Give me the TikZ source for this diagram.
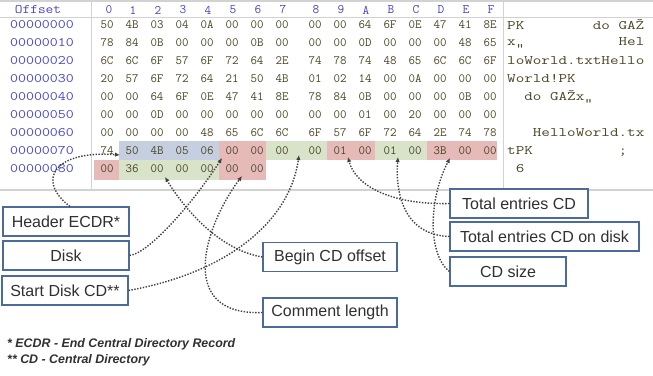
\documentclass[tikz,border=0pt]{standalone}
\usepackage{fontspec}
\usepackage{graphicx}
\setsansfont{Liberation Sans}
\usetikzlibrary{arrows.meta}
\definecolor{hexc}{HTML}{4A4424}
\definecolor{offc}{HTML}{4646C8}
\definecolor{gridc}{HTML}{D2D2D2}
\definecolor{hlblue}{HTML}{C6CFE0}
\definecolor{hlred}{HTML}{E7BABA}
\definecolor{hlgreen}{HTML}{D8E3C9}
\definecolor{boxc}{HTML}{4C6A9C}
\definecolor{lblc}{HTML}{303030}
\definecolor{connc}{HTML}{404040}
\begin{document}
\begin{tikzpicture}[x=1pt,y=-1pt,
  hex/.style={font=\fontsize{12.6}{12.6}\ttfamily, text=hexc, inner sep=0pt},
  offs/.style={font=\fontsize{13}{13}\ttfamily, text=offc, inner sep=0pt},
  asc/.style={font=\fontsize{13}{13}\ttfamily, text=hexc, inner sep=0pt, anchor=west},
  lbl/.style={draw=boxc, line width=1.2pt, fill=white, font=\sffamily\fontsize{16}{18}\selectfont, text=lblc, minimum height=29pt, inner sep=0pt},
  conn/.style={draw=connc, line width=1.4pt, dash pattern=on 1.4pt off 1.5pt, -{Latex[length=5pt,width=4.5pt]}},
  note/.style={font=\sffamily\bfseries\itshape\fontsize{12.4}{14}\selectfont, text=lblc, anchor=west, inner sep=0pt}]
\useasboundingbox (0,0) rectangle (653,375);
\fill[white] (0,0) rectangle (653,375);
% highlights row 7
\fill[hlblue]  (119,141) rectangle (219,160);
\fill[hlred]   (219,141) rectangle (266,160);
\fill[hlgreen] (266,141) rectangle (327,160);
\fill[hlred]   (327,141) rectangle (375,160);
\fill[hlgreen] (375,141) rectangle (427,160);
\fill[hlred]   (427,141) rectangle (497,160);
% highlights row 8
\fill[hlred]   (94,160) rectangle (119,180);
\fill[hlgreen] (119,160) rectangle (219,180);
\fill[hlred]   (219,160) rectangle (266,180);
% grid lines
\draw[gridc, line width=1.2pt] (0,1) -- (653,1);
\draw[gridc, line width=0.8pt] (0,17.5) -- (653,17.5);
\draw[gridc, line width=1pt] (91,1) -- (91,190);
\draw[gridc, line width=1pt] (503,1) -- (503,190);
\draw[gridc, line width=2.5pt] (0,190) -- (653,190);
% header
\node[offs] (hoff) at (38,10) {\scalebox{1.15}[1]{Offset}};
\foreach \h [count=\c from 0] in {0,1,2,3,4,5,6,7,8,9,A,B,C,D,E,F}{
  \pgfmathsetmacro{\cx}{{109,133,158,183,208,233,258,283,316,341,366,391,416,441,466,491}[\c]}
  \node[offs] (h\c) at (\cx,10) {\h};
}
% offsets
\foreach \o [count=\r from 0] in {00000000,00000010,00000020,00000030,00000040,00000050,00000060,00000070,00000080}{
  \node[offs] (o\r) at (42,{25+18*\r}) {\scalebox{1.19}[1]{\o}};
}
% hex bytes
\foreach \r/\bytes in {
  0/{50,4B,03,04,0A,00,00,00,00,00,64,6F,0E,47,41,8E},
  1/{78,84,0B,00,00,00,0B,00,00,00,0D,00,00,00,48,65},
  2/{6C,6C,6F,57,6F,72,64,2E,74,78,74,48,65,6C,6C,6F},
  3/{20,57,6F,72,64,21,50,4B,01,02,14,00,0A,00,00,00},
  4/{00,00,64,6F,0E,47,41,8E,78,84,0B,00,00,00,0B,00},
  5/{00,00,0D,00,00,00,00,00,00,00,01,00,20,00,00,00},
  6/{00,00,00,00,48,65,6C,6C,6F,57,6F,72,64,2E,74,78},
  7/{74,50,4B,05,06,00,00,00,00,01,00,01,00,3B,00,00},
  8/{00,36,00,00,00,00,00}}{
  \foreach \b [count=\c from 0] in \bytes {
    \pgfmathsetmacro{\cx}{{107,132,157,182,207,232,257,282,315,340,365,390,415,440,465,490}[\c]}
    \node[hex] (c\r-\c) at (\cx,{25+18*\r}) {\b};
  }
}
% text column
\node[asc] (a0) at (507,25) {\scalebox{1.28}[1]{PK~~~~~~~~do~GAŽ}};
\node[asc] (a1) at (507,43) {\scalebox{1.28}[1]{x„~~~~~~~~~~~Hel}};
\node[asc] (a2) at (507,61) {\scalebox{1.28}[1]{loWorld.txtHello}};
\node[asc] (a3) at (507,79) {\scalebox{1.28}[1]{World!PK}};
\node[asc] (a4) at (507,97) {\scalebox{1.28}[1]{~~do~GAŽx„}};
\node[asc] (a6) at (507,133) {\scalebox{1.28}[1]{~~~HelloWorld.tx}};
\node[asc] (a7) at (507,151) {\scalebox{1.28}[1]{tPK~~~~~~~~~~;}};
\node[asc] (a8) at (507,169) {\scalebox{1.28}[1]{~6}};
% labels
\node[lbl, minimum width=126pt] (hdr) at (66,221.5) {Header ECDR*};
\node[lbl, minimum width=126pt] (disk) at (66,255.5) {Disk};
\node[lbl, minimum width=126pt] (sdisk) at (65,290.5) {Start Disk CD**};
\node[lbl, minimum width=134pt] (begin) at (330,257) {Begin CD offset};
\node[lbl, minimum width=134pt] (comm) at (330,312.5) {Comment length};
\node[lbl, minimum width=138pt] (totcd) at (519,203.5) {Total entries CD};
\node[lbl, minimum width=189pt] (totdisk) at (544.5,236.5) {Total entries CD on disk};
\node[lbl, minimum width=116pt] (cdsize) at (508,271.5) {CD size};
% arrow targets
\coordinate (tg1) at (120,155);
\coordinate (tg2) at (222,158);
\coordinate (tg3) at (299,155);
\coordinate (tg4) at (165,177);
\coordinate (tg5) at (242,176);
\coordinate (tg6) at (348,157);
\coordinate (tg7) at (398,157);
\coordinate (tg8) at (450,158);
% connectors
\draw[conn] ([xshift=4pt]hdr.north) .. controls (35,180) and (55,150) .. (tg1);
\draw[conn] (disk.east) .. controls (150,253) and (195,200) .. (tg2);
\draw[conn] (sdisk.east) .. controls (230,272) and (290,220) .. (tg3);
\draw[conn] (begin.west) .. controls (220,250) and (185,210) .. (tg4);
\draw[conn] (comm.west) .. controls (175,316) and (205,225) .. (tg5);
\draw[conn] (totcd.west) .. controls (390,205) and (355,185) .. (tg6);
\draw[conn] (totdisk.west) .. controls (405,235) and (395,195) .. (tg7);
\draw[conn] (cdsize.west) .. controls (428,255) and (428,200) .. (tg8);
% footnotes
\node[note] (n1) at (7,344) {* ECDR - End Central Directory Record};
\node[note] (n2) at (7,360) {** CD - Central Directory};
\end{tikzpicture}
\end{document}
